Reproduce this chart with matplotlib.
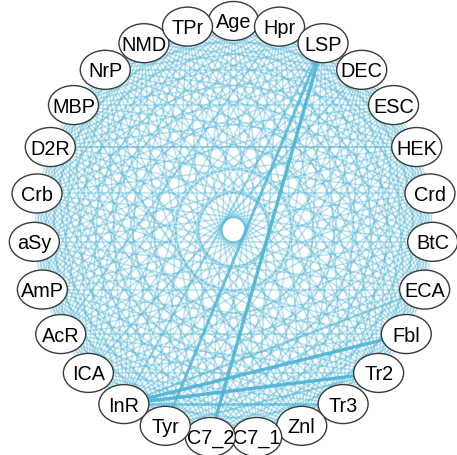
import numpy as np
import matplotlib.pyplot as plt
from matplotlib.patches import Ellipse
from matplotlib.collections import LineCollection

# node labels, clockwise from the top
labels = ['Age', 'Hpr', 'LSP', 'DEC', 'ESC', 'HEK', 'Crd', 'BtC', 'ECA',
          'Fbl', 'Tr2', 'Tr3', 'Znl', 'C7_1', 'C7_2', 'Tyr', 'InR', 'ICA',
          'AcR', 'AmP', 'aSy', 'Crb', 'D2R', 'MBP', 'NrP', 'NMD', 'TPr']

# every pair is linked with a weak weight, these ones stand out
base_weight = 0.25
strong_edges = [('LSP', 'C7_2', 1.0), ('LSP', 'Tyr', 0.85), ('InR', 'Fbl', 1.0),
                ('InR', 'Tr2', 1.0), ('InR', 'Tr3', 0.7), ('InR', 'ECA', 0.55),
                ('LSP', 'InR', 0.5), ('D2R', 'HEK', 0.45), ('DEC', 'ICA', 0.45),
                ('Tyr', 'Tr2', 0.45), ('Hpr', 'AcR', 0.4), ('MBP', 'Znl', 0.4)]

n = len(labels)
ang = np.pi / 2 - 2 * np.pi * np.arange(n) / n
cx, cy, rx, ry = 233.5, 230.7, 199.5, 208.7
xs = cx + rx * np.cos(ang)
ys = cy - ry * np.sin(ang)
idx = {l: i for i, l in enumerate(labels)}

W = np.full((n, n), base_weight)
for a, b, w in strong_edges:
    W[idx[a], idx[b]] = w
    W[idx[b], idx[a]] = w

fig = plt.figure(figsize=(4.57, 4.56), dpi=100)
ax = fig.add_axes([0, 0, 1, 1])
ax.set_xlim(0, 457)
ax.set_ylim(456, 0)
ax.axis('off')

pairs = [(i, j) for i in range(n) for j in range(i + 1, n)]
pairs.sort(key=lambda p: W[p])
segs = [[(xs[i], ys[i]), (xs[j], ys[j])] for i, j in pairs]
ws = np.array([W[p] for p in pairs])
cols = [(0.306, 0.706, 0.839, min(1.0, 0.22 + 0.7 * w)) for w in ws]
lc = LineCollection(segs, colors=cols, linewidths=0.65 + 1.8 * ws, zorder=1)
ax.add_collection(lc)

for i, l in enumerate(labels):
    e = Ellipse((xs[i], ys[i]), 50, 39, facecolor='white', edgecolor='#3a3a3a',
                lw=1.0, zorder=2 + i)
    ax.add_patch(e)
    ax.text(xs[i], ys[i] + 1, l, ha='center', va='center', fontsize=14.3,
            family='Liberation Sans', zorder=2 + i)

fig.savefig('out.png', dpi=100)
